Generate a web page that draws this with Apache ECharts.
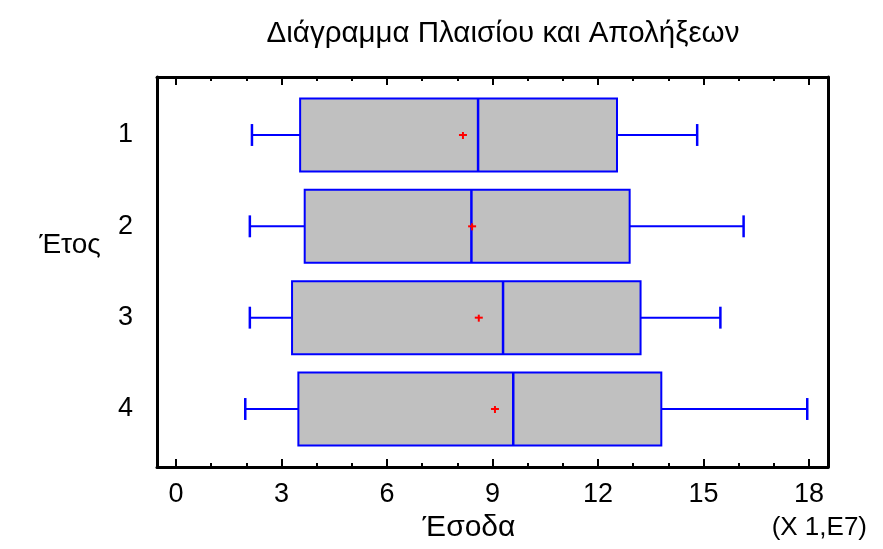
<!DOCTYPE html>
<html lang="el" style="height: 100%">
<head>
  <meta charset="utf-8">
</head>
<body style="height: 100%; margin: 0; background: #fff">
  <div id="container" style="width: 883px; height: 549px"></div>

  <script type="text/javascript" src="https://cdn.jsdelivr.net/npm/echarts@6.0.0/dist/echarts.min.js"></script>
  <script type="text/javascript">
    // δεδομένα (τιμές σε μονάδες 1E7)
    var years = [1, 2, 3, 4];
    var lowWhisker = [2.16, 2.10, 2.10, 1.97];
    var q1 = [3.53, 3.66, 3.30, 3.48];
    var medians = [8.59, 8.40, 9.30, 9.59];
    var q3 = [12.54, 12.90, 13.21, 13.80];
    var highWhisker = [14.82, 16.14, 15.48, 17.95];
    var means = [8.16, 8.42, 8.61, 9.07];

    var majorTicks = [0, 3, 6, 9, 12, 15, 18];
    var minorTicks = [1, 2, 4, 5, 7, 8, 10, 11, 13, 14, 16, 17];

    var FONT = '"Liberation Sans", Arial, sans-serif';
    var BLUE = '#0000ff';

    var boxData = years.map(function (y, i) {
      return [y, lowWhisker[i], q1[i], medians[i], q3[i], highWhisker[i], means[i]];
    });

    var dom = document.getElementById('container');
    var myChart = echarts.init(dom, null, { renderer: 'canvas' });

    function renderBox(params, api) {
      var cat = api.value(0);
      var pMin = api.coord([api.value(1), cat]);
      var pQ1 = api.coord([api.value(2), cat]);
      var pMed = api.coord([api.value(3), cat]);
      var pQ3 = api.coord([api.value(4), cat]);
      var pMax = api.coord([api.value(5), cat]);
      var pMean = api.coord([api.value(6), cat]);
      var h = api.size([0, 0.8])[1];
      var cap = api.size([0, 0.24])[1];
      var cy = pQ1[1];
      var lineStyle = { stroke: BLUE, lineWidth: 2 };
      var thick = { stroke: BLUE, lineWidth: 2.5 };
      var red = { stroke: '#ff0000', lineWidth: 2 };
      return {
        type: 'group',
        children: [
          { type: 'line', shape: { x1: pMin[0], y1: cy, x2: pQ1[0], y2: cy }, style: lineStyle },
          { type: 'line', shape: { x1: pQ3[0], y1: cy, x2: pMax[0], y2: cy }, style: lineStyle },
          { type: 'line', shape: { x1: pMin[0], y1: cy - cap / 2, x2: pMin[0], y2: cy + cap / 2 }, style: thick },
          { type: 'line', shape: { x1: pMax[0], y1: cy - cap / 2, x2: pMax[0], y2: cy + cap / 2 }, style: thick },
          {
            type: 'rect',
            shape: { x: pQ1[0], y: cy - h / 2, width: pQ3[0] - pQ1[0], height: h },
            style: { fill: '#c0c0c0', stroke: BLUE, lineWidth: 2 }
          },
          { type: 'line', shape: { x1: pMed[0], y1: cy - h / 2, x2: pMed[0], y2: cy + h / 2 }, style: thick },
          { type: 'line', shape: { x1: pMean[0] - 4, y1: pMean[1], x2: pMean[0] + 4, y2: pMean[1] }, style: red },
          { type: 'line', shape: { x1: pMean[0], y1: pMean[1] - 3, x2: pMean[0], y2: pMean[1] + 4 }, style: red }
        ]
      };
    }

    function xAxisOf(position, ticks, tickLen, showLine, showLabel) {
      return {
        type: 'value',
        position: position,
        min: -0.54,
        max: 18.54,
        splitLine: { show: false },
        axisLine: { show: showLine, onZero: false, lineStyle: { color: '#000', width: 3 } },
        axisTick: { show: true, inside: true, length: tickLen, customValues: ticks, lineStyle: { color: '#000', width: 2 } },
        axisLabel: {
          show: showLabel,
          customValues: majorTicks,
          fontSize: 27,
          fontFamily: FONT,
          color: '#000',
          margin: 14
        }
      };
    }

    function yAxisOf(position, showLabel) {
      return {
        type: 'value',
        inverse: true,
        position: position,
        min: 0.365,
        max: 4.635,
        splitLine: { show: false },
        axisLine: { show: true, onZero: false, lineStyle: { color: '#000', width: 3 } },
        axisTick: { show: false },
        axisLabel: {
          show: showLabel,
          customValues: years,
          fontSize: 27,
          fontFamily: FONT,
          color: '#000',
          margin: 24
        }
      };
    }

    var option = {
      backgroundColor: '#fff',
      animation: false,
      title: {
        text: 'Διάγραμμα Πλαισίου και Απολήξεων',
        left: 498,
        top: 14,
        textAlign: 'center',
        textStyle: { fontSize: 29.5, fontWeight: 'normal', fontFamily: FONT, color: '#000' }
      },
      grid: { left: 157, right: 55, top: 77, bottom: 82, containLabel: false },
      xAxis: [
        xAxisOf('bottom', majorTicks, 8, true, true),
        xAxisOf('bottom', minorTicks, 4, false, false),
        xAxisOf('top', majorTicks, 8, true, false),
        xAxisOf('top', minorTicks, 4, false, false)
      ],
      yAxis: [yAxisOf('left', true), yAxisOf('right', false)],
      graphic: [
        {
          type: 'text',
          x: 70,
          y: 245,
          style: { text: 'Έτος', fontSize: 28, fontFamily: FONT, fill: '#000', align: 'center', verticalAlign: 'middle' }
        },
        {
          type: 'text',
          x: 469,
          y: 528,
          style: { text: 'Έσοδα', fontSize: 30, fontFamily: FONT, fill: '#000', align: 'center', verticalAlign: 'middle' }
        },
        {
          type: 'text',
          x: 867,
          y: 528,
          style: { text: '(X 1,E7)', fontSize: 26, fontFamily: FONT, fill: '#000', align: 'right', verticalAlign: 'middle' }
        }
      ],
      series: [
        {
          type: 'custom',
          xAxisIndex: 0,
          yAxisIndex: 0,
          renderItem: renderBox,
          encode: { x: [1, 2, 3, 4, 5, 6], y: 0 },
          data: boxData
        }
      ]
    };

    myChart.setOption(option);
    window.addEventListener('resize', myChart.resize);
  </script>
</body>
</html>
